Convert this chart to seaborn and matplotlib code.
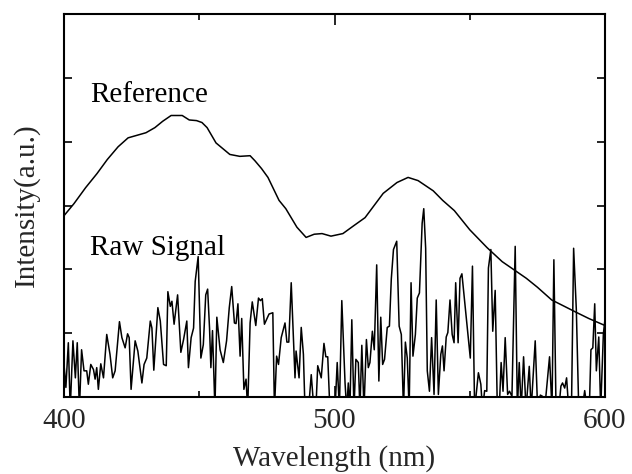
import matplotlib
matplotlib.use("Agg")
import matplotlib.pyplot as plt
import pandas as pd
import seaborn as sns
from matplotlib.ticker import MultipleLocator, NullFormatter

# Data
REF_WL = [400.0, 403.7, 408.0, 412.2, 416.0, 420.0, 423.7, 427.0, 430.3, 433.6,
          436.5, 439.6, 443.7, 446.3, 449.0, 451.0, 452.9, 456.2, 461.3, 465.0,
          468.8, 470.6, 473.0, 475.4, 479.5, 482.0, 486.1, 489.5, 492.5, 495.4,
          498.7, 503.1, 507.0, 511.3, 515.0, 518.0, 523.1, 527.2, 530.9, 536.5,
          540.0, 544.3, 550.0, 556.4, 562.0, 566.8, 570.9, 575.0, 580.3, 585.0,
          589.2, 594.0, 600.0]
REF_INT = [2.84, 3.03, 3.28, 3.50, 3.72, 3.92, 4.06, 4.10, 4.14, 4.22,
           4.32, 4.41, 4.41, 4.34, 4.33, 4.30, 4.22, 3.98, 3.80, 3.77,
           3.78, 3.70, 3.58, 3.44, 3.08, 2.95, 2.66, 2.50, 2.55, 2.56,
           2.52, 2.56, 2.68, 2.81, 3.02, 3.19, 3.36, 3.44, 3.39, 3.23,
           3.08, 2.92, 2.62, 2.34, 2.12, 1.98, 1.86, 1.72, 1.52, 1.42,
           1.33, 1.23, 1.12]

RAW_WL = [400.0, 400.7, 401.6, 402.3, 403.3, 404.2, 404.9, 405.7, 406.5, 407.4,
          408.4, 409.0, 409.9, 410.9, 411.5, 412.1, 412.7, 413.6, 414.6, 415.8,
          417.0, 418.0, 418.9, 420.5, 421.4, 422.6, 423.5, 424.1, 424.8, 426.3,
          427.3, 428.8, 429.6, 430.6, 431.9, 432.5, 433.2, 434.7, 435.6, 436.8,
          437.8, 438.4, 439.3, 439.9, 440.7, 442.0, 443.2, 444.2, 445.4, 446.0,
          447.0, 447.9, 448.5, 449.6, 450.6, 451.5, 452.4, 453.1, 453.8, 454.3,
          454.9, 455.8, 456.5, 457.7, 458.9, 460.1, 461.1, 462.0, 463.0, 463.6,
          464.3, 465.1, 465.7, 466.5, 467.3, 467.9, 468.8, 469.6, 470.9, 471.9,
          472.6, 473.3, 474.1, 475.8, 477.2, 477.8, 478.6, 479.3, 480.3, 481.7,
          482.4, 483.1, 484.0, 485.4, 485.8, 486.9, 487.7, 488.5, 489.1, 490.4,
          491.4, 492.4, 493.1, 493.8, 495.1, 496.1, 496.8, 497.5, 498.3, 499.3,
          500.2, 501.0, 501.8, 502.7, 503.9, 504.5, 505.1, 505.7, 506.4, 507.2,
          507.9, 508.8, 509.4, 510.1, 510.9, 511.8, 512.5, 513.1, 514.0, 514.7,
          515.6, 516.4, 517.1, 517.8, 518.5, 519.5, 520.3, 521.0, 521.8, 523.0,
          523.9, 524.7, 525.5, 526.2, 526.9, 527.6, 528.3, 529.0, 529.9, 530.6,
          531.4, 532.4, 533.0, 533.7, 534.3, 535.1, 535.9, 536.8, 537.6, 538.4,
          539.3, 539.9, 540.5, 541.3, 541.9, 542.7, 543.5, 544.2, 544.8, 545.7,
          546.4, 547.1, 548.1, 549.2, 550.2, 551.0, 551.8, 553.2, 554.1, 554.7,
          555.5, 556.3, 556.9, 557.8, 558.5, 559.4, 560.2, 560.9, 561.6, 562.3,
          563.1, 564.0, 564.7, 565.6, 566.8, 567.6, 568.3, 569.0, 569.9, 570.8,
          572.0, 572.7, 574.2, 575.1, 576.1, 576.9, 577.9, 579.5, 580.4, 581.1,
          581.9, 582.9, 583.7, 584.3, 585.1, 585.8, 586.6, 587.6, 588.4, 589.4,
          590.3, 591.5, 592.5, 593.4, 594.2, 594.8, 595.5, 596.2, 596.8, 597.7,
          598.4, 599.4, 600.0]
RAW_INT = [0.51, 0.15, 0.85, -0.2, 0.88, 0.30, 0.85, -0.2, 0.74, 0.41,
           0.41, 0.20, 0.51, 0.43, 0.28, 0.46, 0.12, 0.52, 0.30, 0.98,
           0.67, 0.30, 0.41, 1.18, 0.93, 0.77, 0.99, 0.93, 0.12, 0.88,
           0.72, 0.22, 0.51, 0.61, 1.19, 1.08, 0.42, 1.40, 1.19, 0.51,
           0.49, 1.65, 1.42, 1.50, 1.14, 1.60, 0.70, 0.90, 1.19, 0.46,
           0.93, 1.08, 1.81, 2.20, 0.61, 0.82, 1.60, 1.69, 1.08, 0.46,
           1.04, -0.2, 1.25, 0.74, 0.54, 0.88, 1.40, 1.73, 1.16, 1.15,
           1.46, 0.64, 1.23, 0.12, 0.28, -0.2, 1.16, 1.49, 1.12, 1.55,
           1.51, 1.54, 1.14, 1.30, 1.32, -0.2, 0.64, 0.51, 0.93, 1.16,
           0.86, 0.86, 1.79, 0.30, 0.72, 0.30, 1.09, 0.67, -0.2, -0.2,
           0.35, -0.2, -0.2, 0.49, 0.30, 0.84, 0.63, 0.63, -0.2, -0.2,
           -0.2, 0.54, -0.2, 1.51, 0.22, -0.2, 0.22, -0.2, 1.21, -0.2,
           0.59, 0.54, -0.2, 0.81, -0.2, 0.90, 0.46, 0.54, 1.03, 0.74,
           2.07, 0.25, 1.25, 0.51, 0.59, 1.09, 1.11, 1.85, 2.31, 2.44,
           1.11, 0.98, -0.2, 0.86, 0.61, -0.2, 1.79, 0.64, 0.98, 1.55,
           1.63, 2.72, 2.95, 2.33, 0.41, 0.09, 0.93, 0.04, 1.52, 0.04,
           0.67, 0.80, 0.41, 0.94, 1.01, 1.52, 0.98, 0.85, 1.79, 0.85,
           1.86, 1.93, 1.50, 1.03, 0.61, 2.05, -0.2, 0.38, 0.20, -0.2,
           0.10, 0.09, 2.02, 2.31, 1.03, 1.67, -0.2, -0.2, 0.54, 0.09,
           0.93, 0.04, 0.09, 0.01, 2.36, -0.2, 0.54, -0.2, 0.63, -0.2,
           0.48, -0.2, 0.88, -0.2, 0.03, 0.01, -0.1, 0.63, -0.2, 2.15,
           -0.2, -0.2, 0.17, 0.22, 0.14, 0.30, -0.2, -0.2, 2.33, 1.37,
           -0.2, -0.2, 0.10, -0.2, -0.2, 0.74, 0.77, 1.46, 0.41, 0.94,
           -0.2, 0.99, 1.22]

sns.set_style("ticks")
plt.rcParams["font.family"] = ["Liberation Serif", "DejaVu Serif"]
plt.rcParams["mathtext.fontset"] = "stix"

ref = pd.DataFrame({"wl": REF_WL, "val": REF_INT})
raw = pd.DataFrame({"wl": RAW_WL, "val": RAW_INT})

fig = plt.figure(figsize=(6.32, 4.74), dpi=100)
ax = fig.add_axes([64 / 632, 1 - 397 / 474, (605 - 64) / 632, (397 - 14) / 474])

sns.lineplot(data=ref, x="wl", y="val", color="black", linewidth=1.1,
             estimator=None, ax=ax)
sns.lineplot(data=raw, x="wl", y="val", color="black", linewidth=1.1,
             estimator=None, ax=ax)

ax.text(409.6, 4.62, "Reference", fontsize=21, color="black")
ax.text(409.6, 2.22, "Raw Signal", fontsize=21, color="black")

ax.set_xlim(400, 600)
ax.set_ylim(0, 6)
ax.xaxis.set_major_locator(MultipleLocator(100))
ax.xaxis.set_minor_locator(MultipleLocator(50))
ax.yaxis.set_major_locator(MultipleLocator(1))
ax.yaxis.set_major_formatter(NullFormatter())
ax.tick_params(axis="both", which="both", direction="in",
               top=True, right=True, color="black", width=1.2)
ax.tick_params(axis="x", which="major", length=8, labelsize=21, pad=8)
ax.tick_params(axis="x", which="minor", length=4.5)
ax.tick_params(axis="y", which="major", length=6)
for s in ax.spines.values():
    s.set_linewidth(1.5)
    s.set_color("black")

ax.set_xlabel("Wavelength (nm)", fontsize=21, labelpad=8)
ax.set_ylabel("Intensity(a.u.)", fontsize=21, labelpad=14)

fig.savefig("out.png", dpi=100)
